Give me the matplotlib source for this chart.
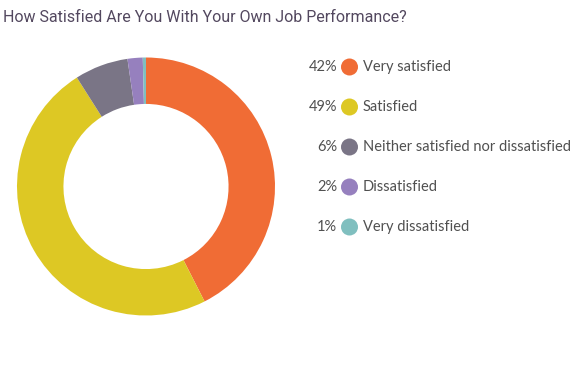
import matplotlib
matplotlib.use("Agg")
import matplotlib.pyplot as plt

categories = ["Very satisfied", "Satisfied", "Neither satisfied nor dissatisfied",
              "Dissatisfied", "Very dissatisfied"]
# slice sizes as measured from the ring
slice_values = [42.5, 48.5, 6.7, 1.9, 0.4]
# percentages printed in the legend
legend_pct = [42, 49, 6, 2, 1]
colors = ["#F06C35", "#DDC824", "#7A7586", "#9680BE", "#80BFBF"]
title = "How Satisfied Are You With Your Own Job Performance?"

W, H = 573, 367
fig = plt.figure(figsize=(W / 100, H / 100), dpi=100)
fig.patch.set_facecolor("white")

# donut
cx, cy, r = 146, 186.5, 129
axp = fig.add_axes([(cx - r) / W, (H - cy - r) / H, 2 * r / W, 2 * r / H])
axp.pie(slice_values, colors=colors, startangle=90, counterclock=False,
        radius=1.0, wedgeprops=dict(width=0.36, edgecolor="none", linewidth=0))
axp.set_xlim(-1, 1)
axp.set_ylim(-1, 1)
axp.axis("off")

# overlay for text
axo = fig.add_axes([0, 0, 1, 1])
axo.set_xlim(0, W)
axo.set_ylim(H, 0)
axo.axis("off")

axo.text(3, 18, title, fontsize=11.5, family="Roboto", color="#53485F",
         ha="left", va="center")

y0, dy = 67, 40
for i, (cat, v, c) in enumerate(zip(categories, legend_pct, colors)):
    y = y0 + i * dy
    axo.text(337, y, f"{v}%", fontsize=10.5, family="Lato", color="#505050",
             ha="right", va="center")
    axo.scatter([349.5], [y], s=150, color=c, edgecolors="none")
    axo.text(363, y, cat, fontsize=10.5, family="Lato", color="#505050",
             ha="left", va="center")

fig.savefig("out.png", dpi=100, facecolor="white")
